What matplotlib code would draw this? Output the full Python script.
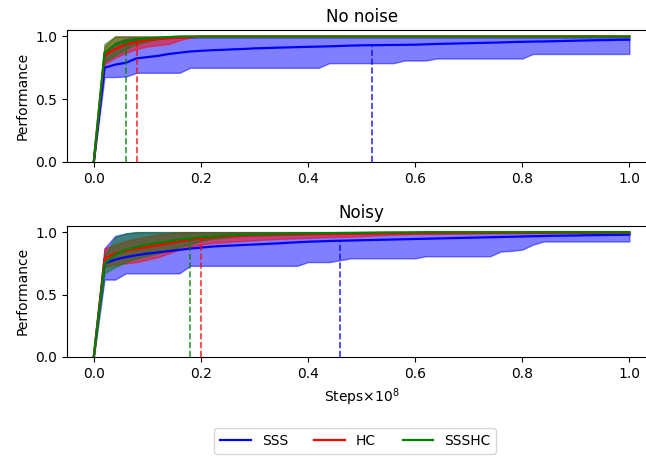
import matplotlib
matplotlib.use("Agg")
import matplotlib.pyplot as plt

# evaluation steps (x 1e8)
steps = [0.00,
         0.02, 0.04, 0.06, 0.08, 0.10, 0.12, 0.14, 0.16, 0.18, 0.20,
         0.22, 0.24, 0.26, 0.28, 0.30, 0.32, 0.34, 0.36, 0.38, 0.40,
         0.42, 0.44, 0.46, 0.48, 0.50, 0.52, 0.54, 0.56, 0.58, 0.60,
         0.62, 0.64, 0.66, 0.68, 0.70, 0.72, 0.74, 0.76, 0.78, 0.80,
         0.82, 0.84, 0.86, 0.88, 0.90, 0.92, 0.94, 0.96, 0.98, 1.00]

# ---- No noise ----
sss_mean_nn = [0.0,
               0.75, 0.775, 0.79, 0.825, 0.835, 0.845, 0.86, 0.87, 0.88, 0.885,
               0.89, 0.893, 0.897, 0.90, 0.905, 0.907, 0.91, 0.912, 0.915, 0.917,
               0.919, 0.921, 0.924, 0.927, 0.929, 0.93, 0.931, 0.932, 0.933, 0.934,
               0.937, 0.94, 0.942, 0.944, 0.946, 0.948, 0.95, 0.952, 0.955, 0.957,
               0.959, 0.96, 0.962, 0.964, 0.966, 0.968, 0.97, 0.971, 0.973, 0.974]
sss_low_nn = [0.0,
              0.676, 0.676, 0.68, 0.71, 0.71, 0.71, 0.71, 0.71, 0.75, 0.75,
              0.75, 0.75, 0.75, 0.75, 0.75, 0.75, 0.75, 0.75, 0.75, 0.75,
              0.75, 0.787, 0.787, 0.787, 0.787, 0.787, 0.787, 0.787, 0.808, 0.808,
              0.808, 0.824, 0.824, 0.824, 0.824, 0.824, 0.824, 0.824, 0.824, 0.824,
              0.86, 0.86, 0.86, 0.86, 0.86, 0.86, 0.86, 0.86, 0.86, 0.86]
sss_high_nn = [0.0,
               0.85, 0.95, 0.98, 0.99, 0.99, 0.99, 0.99, 0.99, 0.99, 0.99,
               0.99, 0.99, 0.99, 0.99, 0.99, 0.99, 0.99, 0.99, 0.99, 0.99,
               0.99, 0.99, 0.99, 0.99, 0.99, 0.99, 0.99, 0.99, 0.99, 0.99,
               0.99, 0.99, 0.99, 0.99, 0.99, 0.99, 0.99, 0.99, 0.99, 0.99,
               0.99, 0.99, 0.99, 0.99, 0.99, 0.99, 0.99, 0.99, 0.99, 0.99]
hc_mean_nn = [0.0,
              0.85, 0.90, 0.935, 0.955, 0.97, 0.978, 0.985, 0.99, 0.995, 1.0,
              1.0, 1.0, 1.0, 1.0, 1.0, 1.0, 1.0, 1.0, 1.0, 1.0,
              1.0, 1.0, 1.0, 1.0, 1.0, 1.0, 1.0, 1.0, 1.0, 1.0,
              1.0, 1.0, 1.0, 1.0, 1.0, 1.0, 1.0, 1.0, 1.0, 1.0,
              1.0, 1.0, 1.0, 1.0, 1.0, 1.0, 1.0, 1.0, 1.0, 1.0]
hc_low_nn = [0.0,
             0.78, 0.83, 0.87, 0.90, 0.92, 0.93, 0.94, 0.97, 0.99, 1.0,
             1.0, 1.0, 1.0, 1.0, 1.0, 1.0, 1.0, 1.0, 1.0, 1.0,
             1.0, 1.0, 1.0, 1.0, 1.0, 1.0, 1.0, 1.0, 1.0, 1.0,
             1.0, 1.0, 1.0, 1.0, 1.0, 1.0, 1.0, 1.0, 1.0, 1.0,
             1.0, 1.0, 1.0, 1.0, 1.0, 1.0, 1.0, 1.0, 1.0, 1.0]
hc_high_nn = [0.0,
              0.92, 1.0, 1.0, 1.0, 1.0, 1.0, 1.0, 1.0, 1.0, 1.0,
              1.0, 1.0, 1.0, 1.0, 1.0, 1.0, 1.0, 1.0, 1.0, 1.0,
              1.0, 1.0, 1.0, 1.0, 1.0, 1.0, 1.0, 1.0, 1.0, 1.0,
              1.0, 1.0, 1.0, 1.0, 1.0, 1.0, 1.0, 1.0, 1.0, 1.0,
              1.0, 1.0, 1.0, 1.0, 1.0, 1.0, 1.0, 1.0, 1.0, 1.0]
ssshc_mean_nn = [0.0,
                 0.87, 0.935, 0.96, 0.975, 0.985, 0.99, 0.995, 1.0, 1.0, 1.0,
                 1.0, 1.0, 1.0, 1.0, 1.0, 1.0, 1.0, 1.0, 1.0, 1.0,
                 1.0, 1.0, 1.0, 1.0, 1.0, 1.0, 1.0, 1.0, 1.0, 1.0,
                 1.0, 1.0, 1.0, 1.0, 1.0, 1.0, 1.0, 1.0, 1.0, 1.0,
                 1.0, 1.0, 1.0, 1.0, 1.0, 1.0, 1.0, 1.0, 1.0, 1.0]
ssshc_low_nn = [0.0,
                0.80, 0.85, 0.90, 0.94, 0.96, 0.98, 1.0, 1.0, 1.0, 1.0,
                1.0, 1.0, 1.0, 1.0, 1.0, 1.0, 1.0, 1.0, 1.0, 1.0,
                1.0, 1.0, 1.0, 1.0, 1.0, 1.0, 1.0, 1.0, 1.0, 1.0,
                1.0, 1.0, 1.0, 1.0, 1.0, 1.0, 1.0, 1.0, 1.0, 1.0,
                1.0, 1.0, 1.0, 1.0, 1.0, 1.0, 1.0, 1.0, 1.0, 1.0]
ssshc_high_nn = [0.0,
                 0.94, 1.0, 1.0, 1.0, 1.0, 1.0, 1.0, 1.0, 1.0, 1.0,
                 1.0, 1.0, 1.0, 1.0, 1.0, 1.0, 1.0, 1.0, 1.0, 1.0,
                 1.0, 1.0, 1.0, 1.0, 1.0, 1.0, 1.0, 1.0, 1.0, 1.0,
                 1.0, 1.0, 1.0, 1.0, 1.0, 1.0, 1.0, 1.0, 1.0, 1.0,
                 1.0, 1.0, 1.0, 1.0, 1.0, 1.0, 1.0, 1.0, 1.0, 1.0]

# ---- Noisy ----
sss_mean_n = [0.0,
              0.75, 0.78, 0.80, 0.815, 0.828, 0.838, 0.848, 0.858, 0.868, 0.876,
              0.884, 0.889, 0.893, 0.897, 0.901, 0.905, 0.909, 0.914, 0.919, 0.923,
              0.926, 0.929, 0.931, 0.933, 0.935, 0.937, 0.939, 0.941, 0.943, 0.945,
              0.947, 0.949, 0.951, 0.953, 0.955, 0.957, 0.959, 0.961, 0.963, 0.965,
              0.967, 0.969, 0.971, 0.972, 0.973, 0.975, 0.976, 0.977, 0.978, 0.98]
sss_low_n = [0.0,
             0.62, 0.62, 0.67, 0.67, 0.67, 0.67, 0.67, 0.67, 0.73, 0.73,
             0.73, 0.73, 0.73, 0.73, 0.73, 0.73, 0.73, 0.73, 0.73, 0.76,
             0.76, 0.76, 0.775, 0.79, 0.79, 0.79, 0.79, 0.79, 0.79, 0.79,
             0.807, 0.807, 0.807, 0.807, 0.807, 0.807, 0.807, 0.845, 0.85, 0.86,
             0.90, 0.925, 0.925, 0.925, 0.925, 0.925, 0.925, 0.925, 0.925, 0.925]
sss_high_n = [0.0,
              0.87, 0.97, 0.99, 1.0, 1.0, 1.0, 1.0, 1.0, 1.0, 1.0,
              1.0, 1.0, 1.0, 1.0, 1.0, 1.0, 1.0, 1.0, 1.0, 1.0,
              1.0, 1.0, 1.0, 1.0, 1.0, 1.0, 1.0, 1.0, 1.0, 1.0,
              1.0, 1.0, 1.0, 1.0, 1.0, 1.0, 1.0, 1.0, 1.0, 1.0,
              1.0, 1.0, 1.0, 1.0, 1.0, 1.0, 1.0, 1.0, 1.0, 1.0]
hc_mean_n = [0.0,
             0.79, 0.83, 0.85, 0.865, 0.88, 0.895, 0.91, 0.925, 0.938, 0.948,
             0.956, 0.962, 0.966, 0.97, 0.973, 0.975, 0.977, 0.979, 0.98, 0.982,
             0.983, 0.984, 0.985, 0.986, 0.987, 0.988, 0.989, 0.99, 0.99, 0.991,
             0.991, 0.992, 0.992, 0.993, 0.993, 0.994, 0.994, 0.995, 0.995, 0.995,
             0.996, 0.996, 0.996, 0.997, 0.997, 0.997, 0.998, 0.998, 0.998, 0.998]
hc_low_n = [0.0,
            0.72, 0.74, 0.75, 0.76, 0.78, 0.80, 0.83, 0.86, 0.88, 0.90,
            0.912, 0.918, 0.924, 0.93, 0.935, 0.94, 0.944, 0.948, 0.951, 0.954,
            0.957, 0.96, 0.962, 0.964, 0.967, 0.972, 0.976, 0.98, 0.982, 0.984,
            0.985, 0.986, 0.987, 0.988, 0.988, 0.989, 0.99, 0.99, 0.991, 0.991,
            0.992, 0.992, 0.993, 0.993, 0.994, 0.994, 0.995, 0.995, 0.995, 0.995]
hc_high_n = [0.0,
             0.87, 0.90, 0.93, 0.95, 0.965, 0.98, 0.99, 1.0, 1.0, 1.0,
             1.0, 1.0, 1.0, 1.0, 1.0, 1.0, 1.0, 1.0, 1.0, 1.0,
             1.0, 1.0, 1.0, 1.0, 1.0, 1.0, 1.0, 1.0, 1.0, 1.0,
             1.0, 1.0, 1.0, 1.0, 1.0, 1.0, 1.0, 1.0, 1.0, 1.0,
             1.0, 1.0, 1.0, 1.0, 1.0, 1.0, 1.0, 1.0, 1.0, 1.0]
ssshc_mean_n = [0.0,
                0.75, 0.82, 0.86, 0.88, 0.90, 0.915, 0.925, 0.94, 0.95, 0.96,
                0.965, 0.97, 0.975, 0.978, 0.98, 0.982, 0.984, 0.986, 0.988, 0.99,
                0.991, 0.992, 0.993, 0.994, 0.995, 0.996, 0.997, 0.998, 0.998, 0.999,
                1.0, 1.0, 1.0, 1.0, 1.0, 1.0, 1.0, 1.0, 1.0, 1.0,
                1.0, 1.0, 1.0, 1.0, 1.0, 1.0, 1.0, 1.0, 1.0, 1.0]
ssshc_low_n = [0.0,
               0.67, 0.72, 0.76, 0.79, 0.81, 0.83, 0.85, 0.88, 0.905, 0.93,
               0.945, 0.955, 0.965, 0.975, 0.985, 0.988, 0.99, 0.992, 0.994, 0.995,
               0.996, 0.997, 0.998, 0.999, 1.0, 1.0, 1.0, 1.0, 1.0, 1.0,
               1.0, 1.0, 1.0, 1.0, 1.0, 1.0, 1.0, 1.0, 1.0, 1.0,
               1.0, 1.0, 1.0, 1.0, 1.0, 1.0, 1.0, 1.0, 1.0, 1.0]
ssshc_high_n = [0.0,
                0.81, 0.96, 0.99, 1.0, 1.0, 1.0, 1.0, 1.0, 1.0, 1.0,
                1.0, 1.0, 1.0, 1.0, 1.0, 1.0, 1.0, 1.0, 1.0, 1.0,
                1.0, 1.0, 1.0, 1.0, 1.0, 1.0, 1.0, 1.0, 1.0, 1.0,
                1.0, 1.0, 1.0, 1.0, 1.0, 1.0, 1.0, 1.0, 1.0, 1.0,
                1.0, 1.0, 1.0, 1.0, 1.0, 1.0, 1.0, 1.0, 1.0, 1.0]

# steps where each method reaches its level (vertical markers): SSS, HC, SSSHC
mark_x_nn = [0.52, 0.08, 0.06]
mark_top_nn = [0.93, 0.96, 0.97]
mark_x_n = [0.46, 0.20, 0.18]
mark_top_n = [0.93, 0.955, 0.955]

methods = ["SSS", "HC", "SSSHC"]
colors = ["blue", "red", "green"]


def draw_panel(ax, title, means, lows, highs, mark_x, mark_top):
    for low, high, c in zip(lows, highs, colors):
        ax.fill_between(steps, low, high, color=c, alpha=0.5, linewidth=1)
    lines = []
    for mean, c, name in zip(means, colors, methods):
        ln, = ax.plot(steps, mean, color=c, lw=1.6, label=name)
        lines.append(ln)
    for x, top, c in zip(mark_x, mark_top, colors):
        ax.vlines(x, 0, top, colors=c, linestyles="dashed", lw=1.2, alpha=0.8)
    ax.set_title(title, fontsize=12)
    ax.set_ylabel("Performance")
    ax.set_xlim(-0.05, 1.05)
    ax.set_ylim(0, 1.05)
    ax.set_xticks([0.0, 0.2, 0.4, 0.6, 0.8, 1.0])
    ax.set_yticks([0.0, 0.5, 1.0])
    return lines


fig = plt.figure(figsize=(6.46, 4.57), dpi=100)
ax1 = fig.add_axes([0.1037, 0.646, 0.912, 0.288])
ax2 = fig.add_axes([0.1037, 0.219, 0.912, 0.2867])

lines = draw_panel(ax1, "No noise",
                   [sss_mean_nn, hc_mean_nn, ssshc_mean_nn],
                   [sss_low_nn, hc_low_nn, ssshc_low_nn],
                   [sss_high_nn, hc_high_nn, ssshc_high_nn],
                   mark_x_nn, mark_top_nn)
draw_panel(ax2, "Noisy",
           [sss_mean_n, hc_mean_n, ssshc_mean_n],
           [sss_low_n, hc_low_n, ssshc_low_n],
           [sss_high_n, hc_high_n, ssshc_high_n],
           mark_x_n, mark_top_n)
ax2.set_xlabel(r"Steps$\times10^8$")

fig.legend(handles=lines, loc="center", ncol=3, bbox_to_anchor=(0.55, 0.035),
           columnspacing=1.9, handlelength=2.2)

fig.savefig("out.png", dpi=100)
